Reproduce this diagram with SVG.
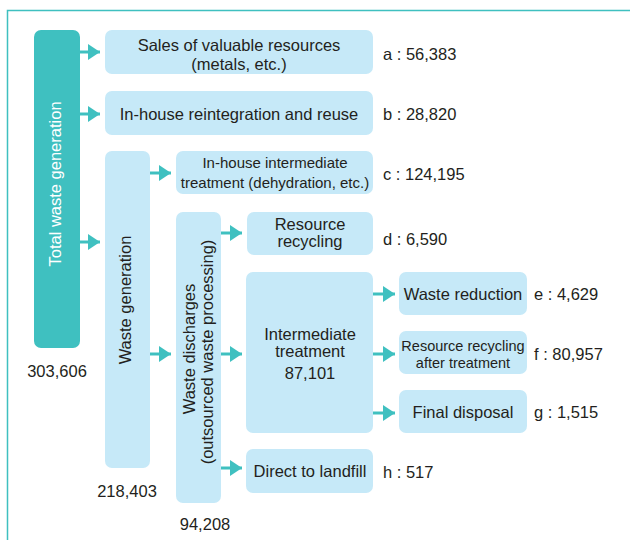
<svg xmlns="http://www.w3.org/2000/svg" width="630" height="540" viewBox="0 0 630 540">
<defs>
<style>
.box{fill:#c6e9f8;}
.main{fill:#3fc0c0;}
.t{font-family:"Liberation Sans",Arial,Helvetica,sans-serif;font-size:16.5px;fill:#231f20;}
.s{font-size:15px;}
.xs{font-size:14.5px;}
.m{text-anchor:middle;}
.w{fill:#ffffff;}
.con{stroke:#3fc0c0;stroke-width:3;fill:none;}
.frame{stroke:#3fc0c0;stroke-width:1.5;fill:none;}
</style>
<marker id="ah" markerUnits="userSpaceOnUse" markerWidth="12" markerHeight="16" refX="12" refY="8" orient="auto">
<path d="M0,0 L12,8 L0,16 Z" fill="#3fc0c0"/>
</marker>
</defs>
<rect width="630" height="540" fill="#ffffff"/>
<path class="frame" d="M7.5,540 L7.5,10.5 L630,10.5"/>

<g id="connectors">
<path class="con" marker-end="url(#ah)" d="M80,52 H100"/>
<path class="con" marker-end="url(#ah)" d="M80,114 H100"/>
<path class="con" marker-end="url(#ah)" d="M80,242 H100"/>
<path class="con" marker-end="url(#ah)" d="M150,173 H171"/>
<path class="con" marker-end="url(#ah)" d="M150,354 H171"/>
<path class="con" marker-end="url(#ah)" d="M221,233 H242"/>
<path class="con" marker-end="url(#ah)" d="M221,354 H242"/>
<path class="con" marker-end="url(#ah)" d="M221,468 H242"/>
<path class="con" marker-end="url(#ah)" d="M373,294 H395"/>
<path class="con" marker-end="url(#ah)" d="M373,354 H395"/>
<path class="con" marker-end="url(#ah)" d="M373,413 H395"/>
</g>

<g id="total">
<rect class="main" x="34" y="30" width="46" height="318" rx="7"/>
<text class="t w m" transform="translate(61,184) rotate(-90)">Total waste generation</text>
<text class="t m" x="57" y="377">303,606</text>
</g>

<g id="sales">
<rect class="box" x="105" y="30" width="268" height="44" rx="7"/>
<text class="t m" x="239" y="51">Sales of valuable resources</text>
<text class="t m" x="239" y="70">(metals, etc.)</text>
<text class="t" x="383" y="60">a : 56,383</text>
</g>

<g id="reuse">
<rect class="box" x="105" y="91" width="268" height="44" rx="7"/>
<text class="t m" x="239" y="120">In-house reintegration and reuse</text>
<text class="t" x="383" y="120">b : 28,820</text>
</g>

<g id="wastegen">
<rect class="box" x="105" y="151" width="45" height="317" rx="7"/>
<text class="t m" transform="translate(131,300) rotate(-90)">Waste generation</text>
<text class="t m" x="127" y="497">218,403</text>
</g>

<g id="inhouse">
<rect class="box" x="176" y="151" width="197" height="43" rx="7"/>
<text class="t s m" x="275" y="168">In-house intermediate</text>
<text class="t s m" x="275" y="188">treatment (dehydration, etc.)</text>
<text class="t" x="383" y="180">c : 124,195</text>
</g>

<g id="discharges">
<rect class="box" x="176" y="212" width="45" height="291" rx="7"/>
<text class="t m" transform="translate(195,349) rotate(-90)">Waste discharges</text>
<text class="t m" transform="translate(213,352) rotate(-90)">(outsourced waste processing)</text>
<text class="t m" x="205" y="530">94,208</text>
</g>

<g id="recycling">
<rect class="box" x="247" y="212" width="126" height="43" rx="7"/>
<text class="t m" x="310" y="230">Resource</text>
<text class="t m" x="310" y="247">recycling</text>
<text class="t" x="383" y="245">d : 6,590</text>
</g>

<g id="intermediate">
<rect class="box" x="246" y="272" width="127" height="161" rx="7"/>
<text class="t m" x="310" y="340">Intermediate</text>
<text class="t m" x="310" y="357">treatment</text>
<text class="t m" x="310" y="379">87,101</text>
</g>

<g id="reduction">
<rect class="box" x="399" y="272" width="128" height="43" rx="7"/>
<text class="t m" x="463" y="300">Waste reduction</text>
<text class="t" x="534" y="300">e : 4,629</text>
</g>

<g id="recycling2">
<rect class="box" x="399" y="331" width="128" height="43" rx="7"/>
<text class="t xs m" x="463" y="351">Resource recycling</text>
<text class="t xs m" x="463" y="368">after treatment</text>
<text class="t" x="534" y="360">f : 80,957</text>
</g>

<g id="final">
<rect class="box" x="399" y="390" width="128" height="43" rx="7"/>
<text class="t m" x="463" y="418">Final disposal</text>
<text class="t" x="534" y="418">g : 1,515</text>
</g>

<g id="landfill">
<rect class="box" x="246" y="449" width="127" height="44" rx="7"/>
<text class="t m" x="310" y="477">Direct to landfill</text>
<text class="t" x="383" y="478">h : 517</text>
</g>
</svg>
